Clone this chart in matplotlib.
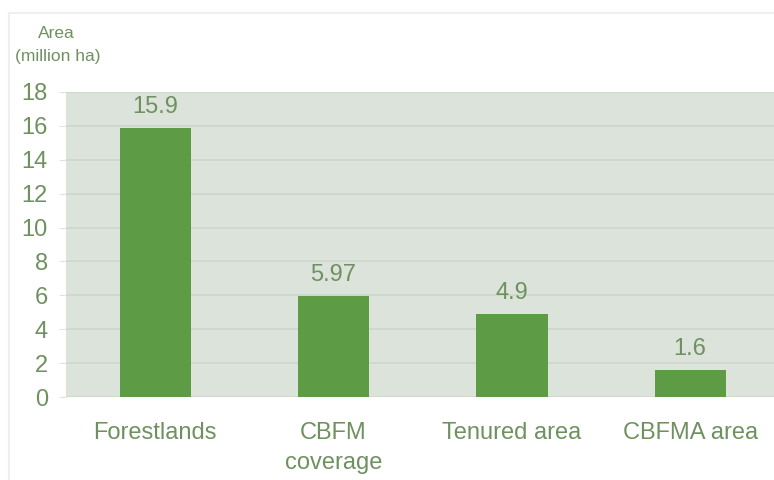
import matplotlib.pyplot as plt
from matplotlib.lines import Line2D

categories = ['Forestlands', 'CBFM\ncoverage', 'Tenured area', 'CBFMA area']
values = [15.9, 5.97, 4.9, 1.6]
value_labels = ['15.9', '5.97', '4.9', '1.6']
yticks = [0, 2, 4, 6, 8, 10, 12, 14, 16, 18]

text_color = '#6f9160'
bar_color = '#5e9b45'
bg_color = '#dce3da'
grid_color = '#cdd6ca'

plt.rcParams['font.family'] = ['Liberation Sans', 'DejaVu Sans']

fig = plt.figure(figsize=(7.74, 4.8), dpi=100)
ax = fig.add_axes([66 / 774, 1 - 397 / 480, 1 - 66 / 774, (397 - 92) / 480])
ax.set_facecolor(bg_color)

x = range(len(categories))
bars = ax.bar(x, values, width=0.40, color=bar_color, zorder=3)
for rect, lab in zip(bars, value_labels):
    ax.annotate(lab, (rect.get_x() + rect.get_width() / 2, rect.get_height()),
                xytext=(0, 7), textcoords='offset points', ha='center', va='bottom',
                fontsize=17, color=text_color)

ax.set_xlim(-0.5, 3.47)
ax.set_ylim(0, 18)
ax.set_yticks(yticks)
ax.set_xticks(list(x))
ax.set_xticklabels(categories, fontsize=17, color=text_color, linespacing=1.45)
ax.tick_params(axis='x', length=0, pad=18)
ax.tick_params(axis='y', length=5, color='#e2e2e2', pad=8, labelsize=17, labelcolor=text_color)
ax.yaxis.grid(True, color=grid_color, linewidth=1.2, zorder=1)
for s in ax.spines.values():
    s.set_visible(False)

fig.text(56 / 774, 1 - 33 / 480, 'Area', ha='center', va='center', fontsize=12.5, color=text_color)
fig.text(58 / 774, 1 - 56 / 480, '(million ha)', ha='center', va='center', fontsize=12.5, color=text_color)

# faint frame of the original figure
fig.add_artist(Line2D([9 / 774, 1], [1 - 13 / 480, 1 - 13 / 480], color='#efefef', lw=1.5))
fig.add_artist(Line2D([9 / 774, 9 / 774], [0, 1 - 13 / 480], color='#efefef', lw=1.5))

fig.savefig('out.png', dpi=100)
